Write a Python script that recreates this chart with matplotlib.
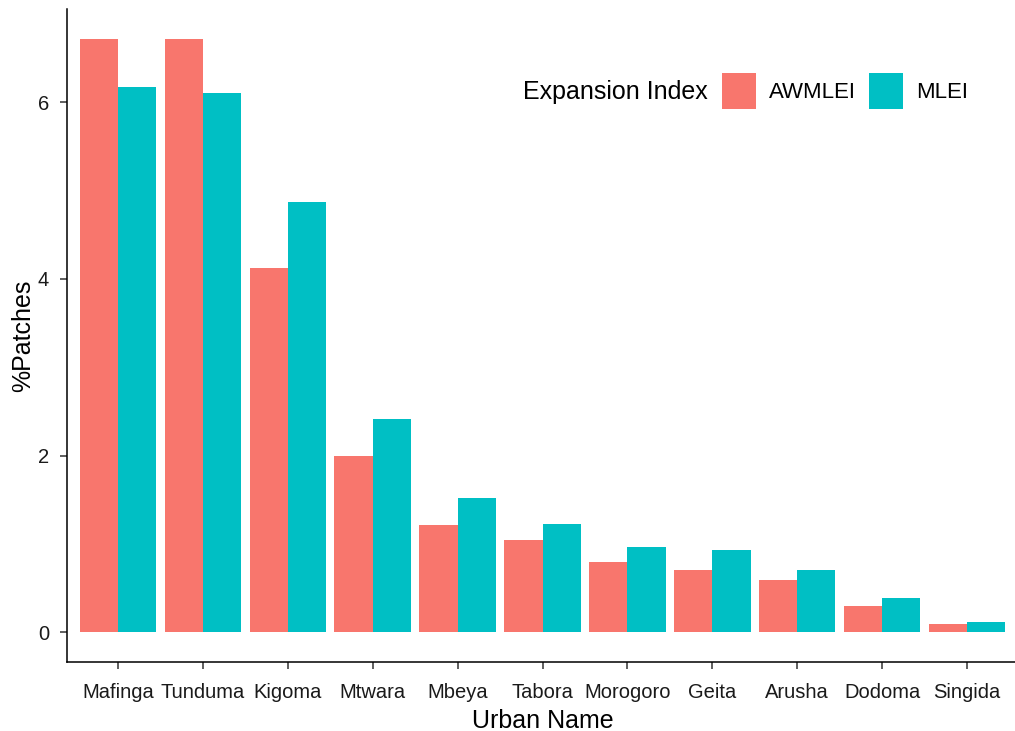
import matplotlib
matplotlib.use("Agg")
import matplotlib.pyplot as plt
from matplotlib.patches import Patch
import numpy as np

plt.rcParams['font.family'] = ['Liberation Sans', 'DejaVu Sans']

cities = ["Mafinga", "Tunduma", "Kigoma", "Mtwara", "Mbeya", "Tabora",
          "Morogoro", "Geita", "Arusha", "Dodoma", "Singida"]
awmlei = [6.72, 6.72, 4.12, 2.00, 1.21, 1.05, 0.80, 0.70, 0.59, 0.30, 0.09]
mlei = [6.17, 6.11, 4.87, 2.41, 1.52, 1.23, 0.97, 0.93, 0.71, 0.39, 0.12]
series_names = ["AWMLEI", "MLEI"]
colors = ["#F8766D", "#00BFC4"]

W, H = 1015, 731
fig = plt.figure(figsize=(W/100, H/100), dpi=100)
left, right, top, bottom = 67, 1018, 9, 662
ax = fig.add_axes([left/W, 1 - bottom/H, (right-left)/W, (bottom-top)/H])

x = np.arange(1, len(cities) + 1)
bw = 0.45
ax.bar(x - bw/2, awmlei, width=bw, color=colors[0], label=series_names[0])
ax.bar(x + bw/2, mlei, width=bw, color=colors[1], label=series_names[1])

ymax = max(max(awmlei), max(mlei))
ax.set_xlim(0.4, len(cities) + 0.6)
ax.set_ylim(-0.05*ymax, 1.05*ymax)
ax.set_xticks(x)
ax.set_xticklabels(cities)
ax.set_yticks([0, 2, 4, 6])

for s in ["top", "right"]:
    ax.spines[s].set_visible(False)
for s in ["left", "bottom"]:
    ax.spines[s].set_linewidth(1.1)
    ax.spines[s].set_color("black")
ax.tick_params(axis="both", length=5, width=1.1, color="#333333",
               labelsize=14.5, labelcolor="#1a1a1a")
ax.tick_params(axis="x", pad=10)
ax.tick_params(axis="y", pad=8)

ax.set_xlabel("Urban Name", fontsize=18, labelpad=5)
ax.set_ylabel("%Patches", fontsize=18, labelpad=2)

lfs = 16
handles = [Patch(facecolor=c) for c in colors]
leg = ax.legend(handles, series_names, ncol=2, frameon=False,
                loc="center left",
                bbox_to_anchor=((722 - left)/(right-left), 1 - (91 - top)/(bottom-top)),
                fontsize=lfs, handlelength=1.53, handleheight=2.05,
                handletextpad=0.59, columnspacing=0.59, borderaxespad=0, borderpad=0)
fig.text(523/W, 1 - 92/H, "Expansion Index", fontsize=18, ha="left", va="center")

fig.savefig("out.png", dpi=100)
